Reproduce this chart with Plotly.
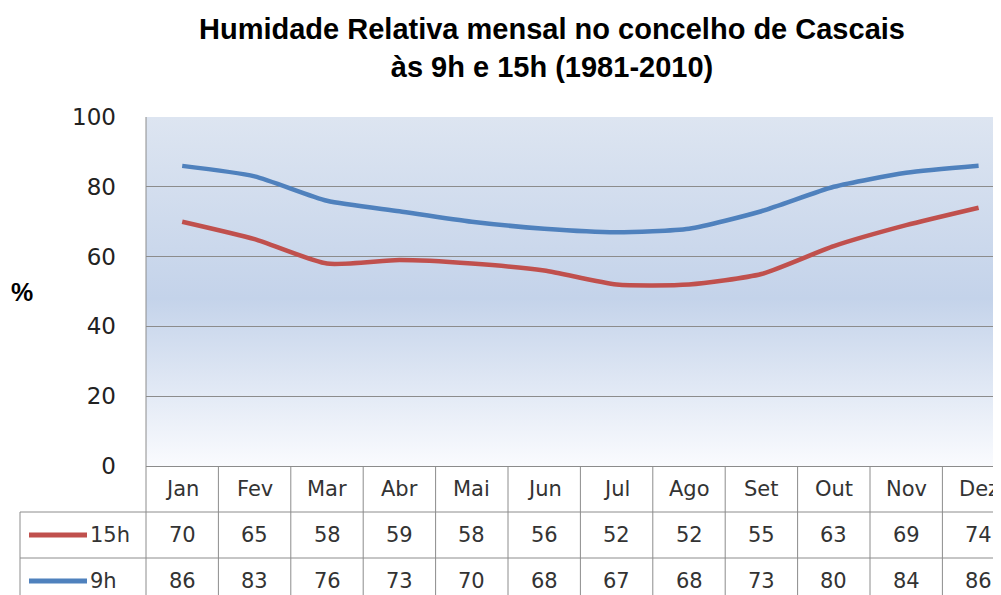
"""Humidade relativa mensal em Cascais, 9h e 15h, com tabela de dados."""

import base64

import plotly.graph_objects as go

months = ["Jan", "Fev", "Mar", "Abr", "Mai", "Jun", "Jul", "Ago", "Set", "Out", "Nov", "Dez"]
hum_15h = [70, 65, 58, 59, 58, 56, 52, 52, 55, 63, 69, 74]
hum_9h = [86, 83, 76, 73, 70, 68, 67, 68, 73, 80, 84, 86]
series_names = ["15h", "9h"]
series_colors = ["#C0504D", "#4F81BD"]
y_ticks = [0, 20, 40, 60, 80, 100]

# geometry in screen pixels; the page body adds an 8px margin
OFF = 8
W, H = 1001 - OFF, 595 - OFF
LEFT, TOP = 146 - OFF, 117 - OFF
PLOT_BOTTOM = 466
ROW_H = 46
GRID = "#8C8C8C"
FONT = "DejaVu Sans"
TXT = "#333333"


def px_x(p):
    return (p - OFF - LEFT) / (W - LEFT)


def px_y(p):
    return (H + OFF - p) / (H - TOP)


svg = (
    '<svg xmlns="http://www.w3.org/2000/svg" width="10" height="100" viewBox="0 0 10 100" '
    'preserveAspectRatio="none"><defs><linearGradient id="g" x1="0" y1="0" x2="0" y2="1">'
    '<stop offset="0" stop-color="#DDE5F1"/><stop offset="0.52" stop-color="#C4D3EA"/>'
    '<stop offset="1" stop-color="#FAFBFE"/></linearGradient></defs>'
    '<rect width="10" height="100" fill="url(#g)"/></svg>'
)
bg_src = "data:image/svg+xml;base64," + base64.b64encode(svg.encode()).decode()

fig = go.Figure()
for name, values, color in zip(series_names, [hum_15h, hum_9h], series_colors):
    fig.add_trace(
        go.Scatter(
            x=months,
            y=values,
            name=name,
            mode="lines",
            line=dict(color=color, width=4.5, shape="spline", smoothing=0.6),
        )
    )

y_dom0 = px_y(PLOT_BOTTOM)
col_w = 72.4
x_max = -0.5 + (W - LEFT) / col_w

shapes = []
annotations = []


def cell_text(x, y, text, xref="x", xanchor="center"):
    return dict(x=x, y=y, xref=xref, yref="paper", text=text, showarrow=False,
                xanchor=xanchor, yanchor="middle",
                font=dict(family=FONT, size=21, color=TXT))


# table rows: header, 15h, 9h
row_tops = [PLOT_BOTTOM + i * ROW_H for i in range(4)]
for yy in row_tops[1:3]:
    shapes.append(dict(type="line", xref="paper", yref="paper", x0=px_x(20), x1=1.0,
                       y0=px_y(yy), y1=px_y(yy), line=dict(color=GRID, width=1)))
shapes.append(dict(type="line", xref="paper", yref="paper", x0=px_x(20), x1=px_x(20),
                   y0=px_y(row_tops[1]), y1=0, line=dict(color=GRID, width=1)))
for k in range(len(months)):
    shapes.append(dict(type="line", xref="x", yref="paper", x0=k + 0.5, x1=k + 0.5,
                       y0=y_dom0, y1=0, line=dict(color=GRID, width=1)))
shapes.append(dict(type="line", xref="paper", yref="paper", x0=0, x1=0,
                   y0=1, y1=0, line=dict(color=GRID, width=1)))

for i, m in enumerate(months):
    annotations.append(cell_text(i, px_y(row_tops[0] + ROW_H / 2), m))

for r, (name, values, color) in enumerate(zip(series_names, [hum_15h, hum_9h], series_colors)):
    yc = px_y(row_tops[r + 1] + ROW_H / 2)
    for i, v in enumerate(values):
        annotations.append(cell_text(i, yc, str(v)))
    shapes.append(dict(type="line", xref="paper", yref="paper", x0=px_x(29), x1=px_x(87),
                       y0=yc, y1=yc, line=dict(color=color, width=5)))
    annotations.append(cell_text(px_x(88), yc, name, xref="paper", xanchor="left"))

annotations.append(dict(x=px_x(22), y=px_y(292), xref="paper", yref="paper", text="<b>%</b>",
                        showarrow=False, xanchor="center", yanchor="middle",
                        font=dict(family="Liberation Sans", size=25, color="#000000")))

fig.update_layout(
    width=W,
    height=H,
    margin=dict(l=LEFT, r=0, t=TOP, b=0, autoexpand=False),
    paper_bgcolor="white",
    plot_bgcolor="rgba(0,0,0,0)",
    showlegend=False,
    title=dict(
        text="Humidade Relativa mensal no concelho de Cascais<br>às 9h e 15h (1981-2010)",
        x=(552 - OFF) / W, xanchor="center", y=1 - 31 / H, yanchor="top",
        font=dict(family="Liberation Sans", size=29, color="#000000", weight="bold"),
    ),
    xaxis=dict(
        type="category",
        range=[-0.5, x_max],
        showticklabels=False,
        showgrid=False,
        showline=True,
        linecolor=GRID,
        zeroline=False,
        automargin=False,
    ),
    yaxis=dict(
        domain=[y_dom0, 1],
        range=[0, 100],
        tickvals=y_ticks,
        showgrid=True,
        gridcolor=GRID,
        gridwidth=1,
        zeroline=False,
        showline=False,
        automargin=False,
        ticklabelstandoff=29,
        tickfont=dict(family=FONT, size=23, color="#222222"),
    ),
    images=[dict(source=bg_src, xref="paper", yref="paper", x=0, y=1, sizex=1,
                 sizey=1 - y_dom0, sizing="stretch", xanchor="left", yanchor="top",
                 layer="below")],
    shapes=shapes,
    annotations=annotations,
)

fig.write_html("out.html")
